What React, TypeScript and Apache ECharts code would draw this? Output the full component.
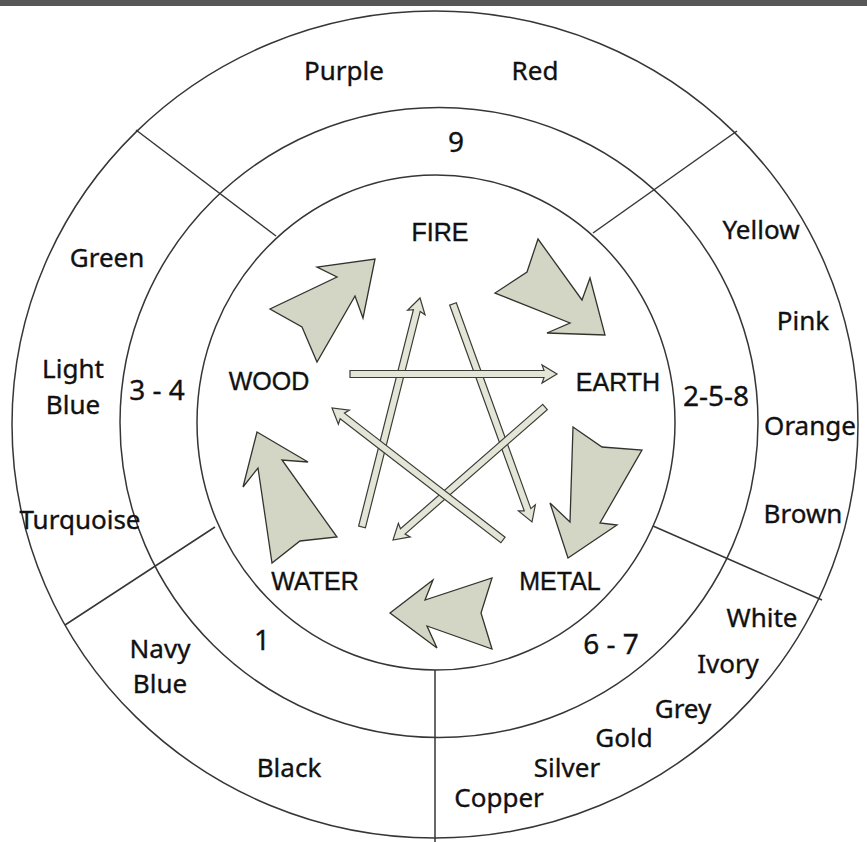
import React, { useEffect, useRef } from "react";
import * as echarts from "echarts";

const W = 867;
const H = 842;

// Rings of the wheel (inner, middle, outer)
const RINGS = [
  { cx: 436, cy: 422.5, rx: 239, ry: 247.5 },
  { cx: 439, cy: 422.5, rx: 319, ry: 315 },
  { cx: 435, cy: 424.5, rx: 423, ry: 413.5 },
];

// Sector dividers between inner and outer ring [x1, y1, x2, y2]
const DIVIDERS = [
  [136, 130, 276, 236],
  [737, 131, 593, 233],
  [822, 600, 653, 526],
  [435, 850, 435, 670],
  [65, 625, 215, 527],
];

const ELEMENT_LABELS: [string, number, number][] = [
  ["FIRE", 440, 232],
  ["WOOD", 269, 381],
  ["EARTH", 618, 382],
  ["WATER", 315, 581],
  ["METAL", 560, 581],
];

const NUMBER_LABELS: [string, number, number][] = [
  ["9", 456, 141],
  ["3 - 4", 157, 389],
  ["2-5-8", 716, 395],
  ["1", 262, 639],
  ["6 - 7", 611, 643],
];

const COLOUR_LABELS: [string, number, number][] = [
  ["Purple", 344, 70],
  ["Red", 535, 70],
  ["Yellow", 761, 229],
  ["Pink", 803, 320],
  ["Orange", 810, 425],
  ["Brown", 803, 513],
  ["Green", 107, 257],
  ["Light", 73, 368],
  ["Blue", 73, 404],
  ["Turquoise", 80, 519],
  ["Navy", 160, 648],
  ["Blue", 160, 683],
  ["Black", 289, 767],
  ["White", 762, 617],
  ["Ivory", 728, 663],
  ["Grey", 683, 708],
  ["Gold", 624, 737],
  ["Silver", 567, 767],
  ["Copper", 499, 797],
];

// Big block arrows (generating cycle)
const BIG_ARROWS: number[][][] = [
  [[375, 259], [363, 318], [355, 296], [317, 362], [302, 327], [270, 309], [337, 277], [317, 267]],
  [[538, 239], [527, 272], [495, 293], [570, 323], [547, 333], [605, 335], [590, 278], [582, 300]],
  [[573, 427], [602, 447], [642, 450], [600, 523], [617, 525], [568, 558], [550, 503], [570, 522]],
  [[390, 613], [433, 580], [425, 600], [492, 578], [481, 613], [492, 649], [427, 626], [437, 648]],
  [[257, 432], [308, 462], [282, 460], [337, 537], [300, 541], [272, 563], [258, 468], [243, 487]],
];

// Thin arrows (controlling cycle): [fromX, fromY, toX, toY]
const THIN_ARROWS = [
  [453, 304, 532, 522],
  [362, 527, 420, 298],
  [350, 374, 557, 374],
  [545, 407, 393, 540],
  [503, 540, 332, 408],
];

const LINE = "#363636";
const BIG_FILL = "#d3d6c4";
const THIN_FILL = "#e3e5d7";

function thinArrowPoints(a: number[]) {
  const [x1, y1, x2, y2] = a;
  const dx = x2 - x1, dy = y2 - y1;
  const len = Math.hypot(dx, dy);
  const ux = dx / len, uy = dy / len;
  const nx = -uy, ny = ux;
  const w = 3.5, h = 9, L = 13;
  const bx = x2 - ux * L, by = y2 - uy * L;
  return [
    [x1 + nx * w, y1 + ny * w],
    [bx + nx * w, by + ny * w],
    [bx + nx * h - ux * 2, by + ny * h - uy * 2],
    [x2, y2],
    [bx - nx * h - ux * 2, by - ny * h - uy * 2],
    [bx - nx * w, by - ny * w],
    [x1 - nx * w, y1 - ny * w],
  ];
}

function textEl(t: string, x: number, y: number, size: number, family: string) {
  return {
    type: "text",
    x,
    y,
    z: 10,
    style: {
      text: t,
      fontSize: size,
      fontFamily: family,
      fill: "#111111",
      stroke: "#111111",
      lineWidth: 0.35,
      align: "center",
      verticalAlign: "middle",
      textAlign: "center",
      textVerticalAlign: "middle",
    },
  };
}

export default function App() {
  const ref = useRef<HTMLDivElement>(null);
  useEffect(() => {
    if (!ref.current) return;
    const chart = echarts.init(ref.current, undefined, { renderer: "svg", width: W, height: H });
    const elements: any[] = [];
    elements.push({
      type: "rect",
      shape: { x: 0, y: 0, width: W, height: H },
      style: { fill: "#ffffff" },
      z: 0,
    });
    RINGS.forEach((r) => {
      elements.push({
        type: "ellipse",
        shape: { cx: r.cx, cy: r.cy, rx: r.rx, ry: r.ry },
        style: { fill: "none", stroke: LINE, lineWidth: 1.5 },
        z: 1,
      });
    });
    DIVIDERS.forEach((d) => {
      elements.push({
        type: "line",
        shape: { x1: d[0], y1: d[1], x2: d[2], y2: d[3] },
        style: { stroke: LINE, lineWidth: 1.5 },
        z: 1,
      });
    });
    THIN_ARROWS.forEach((a, i) => {
      elements.push({
        type: "polygon",
        shape: { points: thinArrowPoints(a) },
        style: { fill: THIN_FILL, stroke: "#3c3c36", lineWidth: 1.2 },
        z: 2 + i * 0.01,
      });
    });
    BIG_ARROWS.forEach((p) => {
      elements.push({
        type: "polygon",
        shape: { points: p },
        style: { fill: BIG_FILL, stroke: "#33332e", lineWidth: 1.3, lineJoin: "miter" },
        z: 3,
      });
    });
    elements.push({
      type: "rect",
      shape: { x: 0, y: 0, width: W, height: 6 },
      style: { fill: "#575757" },
      z: 5,
    });
    ELEMENT_LABELS.forEach(([t, x, y]) => elements.push(textEl(t, x, y, 25, '"Liberation Sans", Arial, sans-serif')));
    NUMBER_LABELS.forEach(([t, x, y]) => elements.push(textEl(t, x, y, 28, '"Noto Sans", "Liberation Sans", sans-serif')));
    COLOUR_LABELS.forEach(([t, x, y]) => elements.push(textEl(t, x, y, 26, '"Noto Sans", "Liberation Sans", sans-serif')));

    chart.setOption({
      animation: false,
      backgroundColor: "#ffffff",
      graphic: { elements },
    });
    return () => chart.dispose();
  }, []);
  return (
    <div
      ref={ref}
      style={{ position: "fixed", left: 0, top: 0, width: W, height: H, background: "#fff" }}
    />
  );
}
